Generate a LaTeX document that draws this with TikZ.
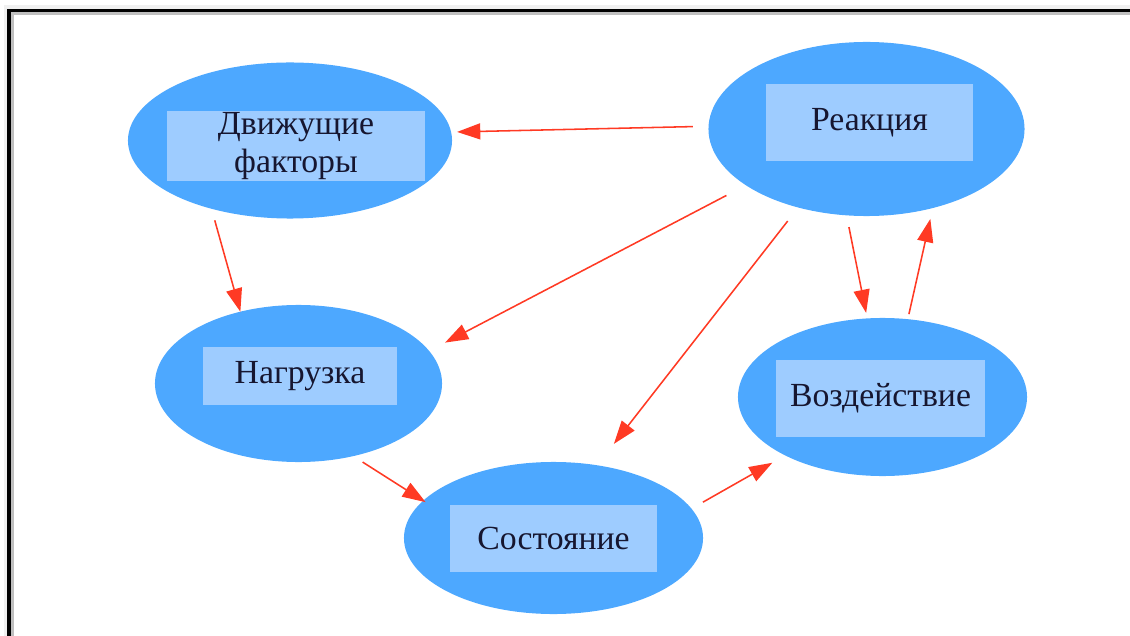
\documentclass[tikz,border=0pt]{standalone}
\usepackage{fontspec}
\setmainfont{Liberation Serif}
\usetikzlibrary{shapes.geometric, arrows.meta}
\definecolor{ellblue}{RGB}{77,168,255}
\definecolor{boxblue}{RGB}{158,204,255}
\definecolor{arrred}{RGB}{255,58,36}
\definecolor{txtdark}{RGB}{22,22,48}
\tikzstyle{arrow} = [line width=1.1pt, arrred, -{Triangle[length=0.58cm,width=0.4cm]}]
\tikzstyle{oval} = [ellipse, fill=ellblue, inner sep=0pt, outer sep=0pt]
\tikzstyle{label box} = [rectangle, fill=boxblue, inner sep=0pt, outer sep=0pt, align=center, text=txtdark, font=\fontsize{24}{27}\selectfont]

\begin{document}
\begin{tikzpicture}[x=0.025cm, y=-0.025cm]
    \useasboundingbox (0,0) rectangle (1130,636);

      % Frame
      \fill[black!6] (4,5) rectangle (1130,9);
      \fill[black!6] (4,5) rectangle (7,636);
      \fill[black] (7,9) rectangle (1130,12);
      \fill[black] (7,9) rectangle (11,636);
      \fill[black!25] (11,12) rectangle (1130,15);
      \fill[black!25] (11,12) rectangle (14,636);

      % Nodes
      \node[oval, minimum width=8.1cm, minimum height=3.9cm] (F) at (290,140.5) {};
      \node[oval, minimum width=7.9cm, minimum height=4.35cm] (R) at (866.5,129) {};
      \node[oval, minimum width=7.175cm, minimum height=3.925cm] (N) at (298.5,383.5) {};
      \node[oval, minimum width=7.225cm, minimum height=3.95cm] (V) at (882.5,397) {};
      \node[oval, minimum width=7.475cm, minimum height=3.8cm] (S) at (553.5,538) {};

      \node[label box, minimum width=6.45cm, minimum height=1.75cm] (Ft) at (296,146) {Движущие\\факторы};
      \node[label box, minimum width=5.175cm, minimum height=1.925cm] (Rt) at (869.5,122.5) {Реакция};
      \node[label box, minimum width=4.85cm, minimum height=1.45cm] (Nt) at (300,376) {Нагрузка};
      \node[label box, minimum width=5.225cm, minimum height=1.925cm] (Vt) at (880.5,398.5) {Воздействие};
      \node[label box, minimum width=5.175cm, minimum height=1.675cm] (St) at (553.5,538.5) {Состояние};

      %Edges
      \draw[arrow, shorten <=0.39cm, shorten >=0.15cm] (R.179) -- (F.3);
      \draw[arrow, shorten <=0.3cm] (F.221) -- (N.129);
      \draw[arrow, shorten <=0.55cm, shorten >=0.45cm] (R.205) -- (N.14);
      \draw[arrow, shorten <=0.43cm, shorten >=0.68cm] (R.229) -- (S.59);
      \draw[arrow, shorten <=0.3cm, shorten >=0.14cm] (R.257) -- (V.101);
      \draw[arrow, shorten <=0.13cm, shorten >=0.28cm] (V.72) -- (R.310);
      \draw[arrow, shorten <=0.28cm, shorten >=-0.07cm] (N.307) -- (S.164);
      \draw[arrow, shorten <=0.33cm, shorten >=0.37cm] (S.12) -- (V.211);

  \end{tikzpicture}
\end{document}
